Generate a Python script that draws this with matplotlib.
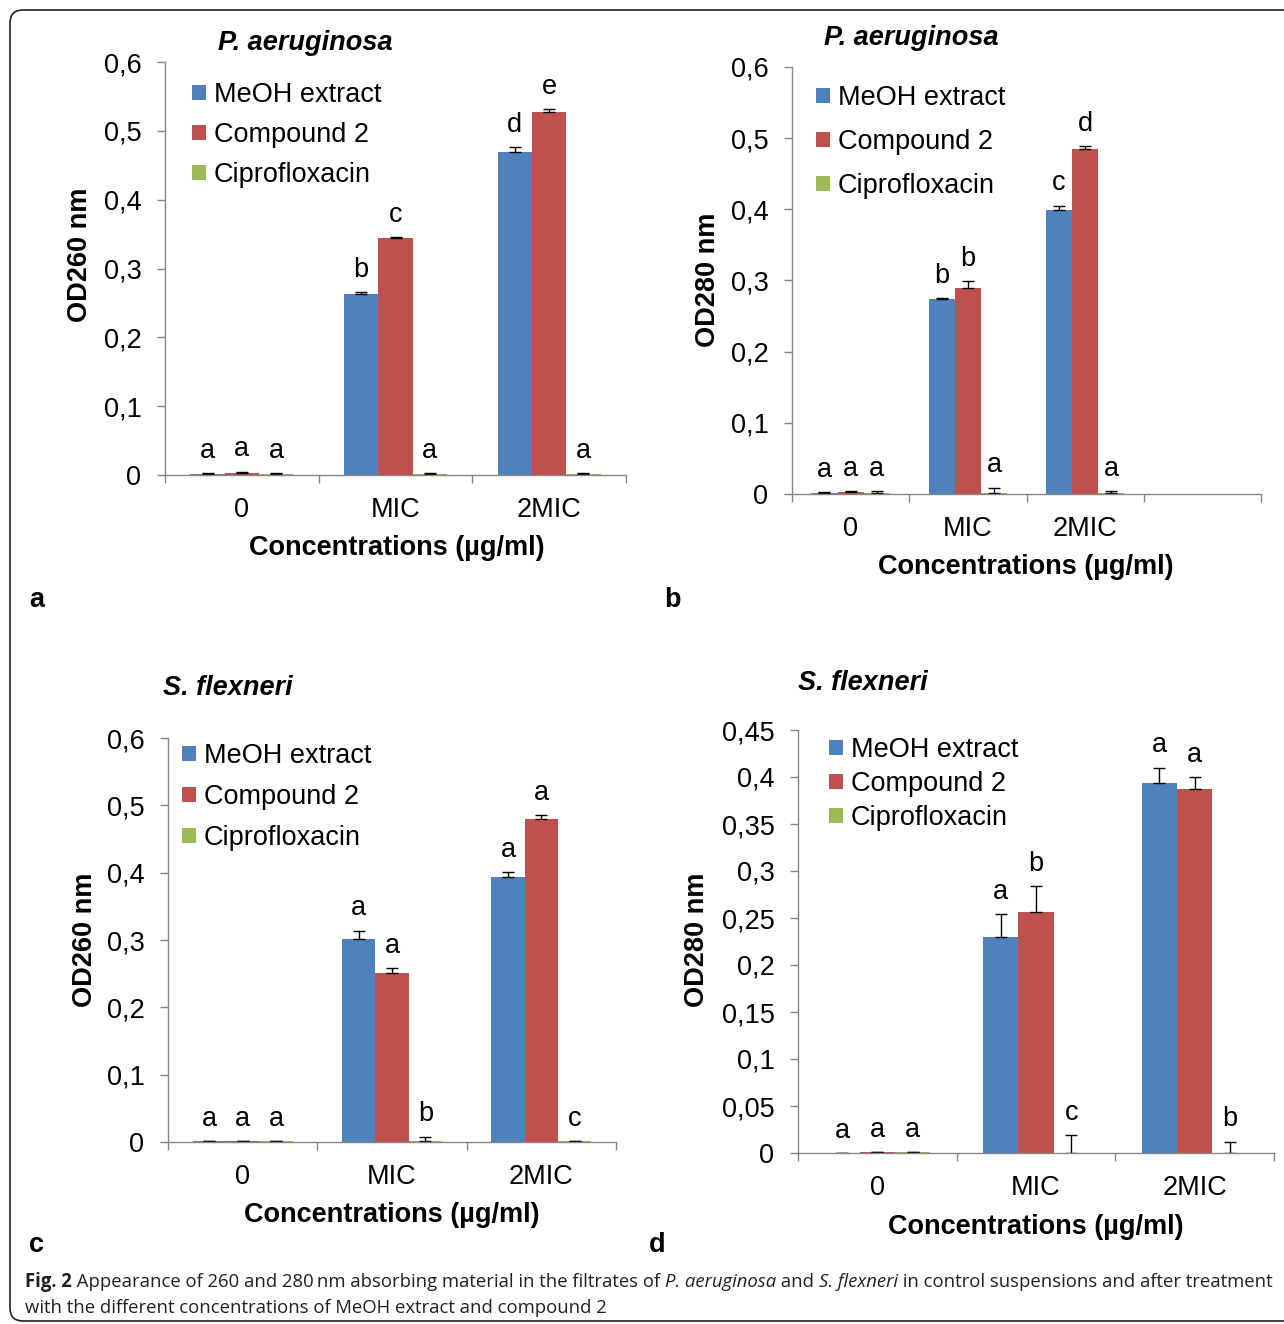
import numpy as np
import matplotlib.pyplot as plt
from matplotlib.patches import FancyBboxPatch, Patch
from matplotlib.ticker import FixedLocator

W, H = 1284, 1324
plt.rcParams['font.family'] = ['Liberation Sans', 'DejaVu Sans']
FS = 19.5
GREY = "#868686"

groups = ["0", "MIC", "2MIC"]
series = ["MeOH extract", "Compound 2", "Ciprofloxacin"]
colors = ["#4F81BD", "#C0504D", "#9BBB59"]

# a : P. aeruginosa, OD260
a_meoh = [0.002, 0.263, 0.469]
a_comp = [0.003, 0.344, 0.528]
a_cipro = [0.002, 0.002, 0.002]
a_meoh_err = [0.001, 0.003, 0.007]
a_comp_err = [0.002, 0.002, 0.004]
a_cipro_err = [0.001, 0.001, 0.001]
a_meoh_let = ["a", "b", "d"]
a_comp_let = ["a", "c", "e"]
a_cipro_let = ["a", "a", "a"]

# b : P. aeruginosa, OD280
b_meoh = [0.002, 0.274, 0.399]
b_comp = [0.003, 0.289, 0.485]
b_cipro = [0.002, 0.002, 0.002]
b_meoh_err = [0.001, 0.001, 0.006]
b_comp_err = [0.001, 0.010, 0.004]
b_cipro_err = [0.002, 0.007, 0.002]
b_meoh_let = ["a", "b", "c"]
b_comp_let = ["a", "b", "d"]
b_cipro_let = ["a", "a", "a"]

# c : S. flexneri, OD260
c_meoh = [0.001, 0.302, 0.394]
c_comp = [0.001, 0.251, 0.480]
c_cipro = [0.001, 0.001, 0.001]
c_meoh_err = [0.0, 0.012, 0.007]
c_comp_err = [0.0, 0.007, 0.005]
c_cipro_err = [0.0, 0.007, 0.0]
c_meoh_let = ["a", "a", "a"]
c_comp_let = ["a", "a", "a"]
c_cipro_let = ["a", "b", "c"]

# d : S. flexneri, OD280
d_meoh = [0.0, 0.230, 0.394]
d_comp = [0.001, 0.256, 0.387]
d_cipro = [0.001, 0.0, 0.0]
d_meoh_err = [0.0, 0.024, 0.016]
d_comp_err = [0.0, 0.028, 0.013]
d_cipro_err = [0.0, 0.019, 0.012]
d_meoh_let = ["a", "a", "a"]
d_comp_let = ["a", "b", "a"]
d_cipro_let = ["a", "c", "b"]


def px_box(l, t, r, b):
    return [l / W, 1 - b / H, (r - l) / W, (b - t) / H]


def panel(fig, box, vals, errs, lets, ymax, step, ylabel, ncat,
          title, title_xy, leg_xy, leg_space, ylab_xy, xlab_xy):
    l, t, r, b = box
    ax = fig.add_axes(px_box(l, t, r, b))
    x = np.arange(len(groups))
    w = 0.223
    for k in range(3):
        xs = x + (k - 1) * w
        ax.bar(xs, vals[k], w, color=colors[k], label=series[k],
               yerr=[np.zeros(len(groups)), errs[k]],
               error_kw=dict(ecolor="black", elinewidth=1.0, capsize=4.5, capthick=1.0))
        for xi, v, e, s in zip(xs, vals[k], errs[k], lets[k]):
            ax.annotate(s, (xi, v + e), xytext=(0, 11), textcoords="offset points",
                        ha="center", va="baseline", fontsize=FS)
    ax.set_xlim(-0.5, ncat - 0.5)
    ax.set_ylim(0, ymax)
    yt = np.arange(0, ymax + step / 2, step)
    ax.set_yticks(yt)
    ax.set_yticklabels([f"{round(v, 2):g}".replace(".", ",") for v in yt])
    ax.set_xticks(x)
    ax.set_xticklabels(groups)
    ax.xaxis.set_minor_locator(FixedLocator(np.arange(ncat + 1) - 0.5))
    for s in ["top", "right"]:
        ax.spines[s].set_visible(False)
    for s in ["left", "bottom"]:
        ax.spines[s].set_color(GREY)
        ax.spines[s].set_linewidth(1.0)
    ax.tick_params(axis="y", direction="out", length=6, width=1, color=GREY,
                   pad=11, labelsize=FS)
    ax.tick_params(axis="x", which="major", length=0, pad=16, labelsize=FS)
    ax.tick_params(axis="x", which="minor", direction="out", length=6, width=1, color=GREY)
    ax.set_ylabel(ylabel, fontsize=FS, fontweight="bold", va="center", ha="center")
    ax.yaxis.set_label_coords((ylab_xy[0] - l) / (r - l), (b - ylab_xy[1]) / (b - t))
    ax.set_xlabel("Concentrations (µg/ml)", fontsize=FS, fontweight="bold",
                  va="center", ha="center")
    ax.xaxis.set_label_coords((xlab_xy[0] - l) / (r - l), (b - xlab_xy[1]) / (b - t))
    fig.text(title_xy[0] / W, 1 - title_xy[1] / H, title, fontsize=FS,
             fontweight="bold", fontstyle="italic", ha="center", va="center")
    handles = [Patch(facecolor=c, edgecolor="none") for c in colors]
    ax.legend(handles, series, loc="upper left", bbox_to_anchor=(leg_xy[0] / W, 1 - leg_xy[1] / H),
              bbox_transform=fig.transFigure, frameon=False, fontsize=FS,
              handlelength=0.5, handleheight=0.5, handletextpad=0.3,
              labelspacing=leg_space, borderpad=0, borderaxespad=0)
    return ax


fig = plt.figure(figsize=(W / 100, H / 100), dpi=100)

panel(fig, (165, 62, 626, 475),
      [a_meoh, a_comp, a_cipro], [a_meoh_err, a_comp_err, a_cipro_err],
      [a_meoh_let, a_comp_let, a_cipro_let], 0.6, 0.1, "OD260 nm", 3,
      "P. aeruginosa", (305, 43), (192, 82), 0.52, (80, 255), (397, 548))
panel(fig, (792, 67, 1261, 494),
      [b_meoh, b_comp, b_cipro], [b_meoh_err, b_comp_err, b_cipro_err],
      [b_meoh_let, b_comp_let, b_cipro_let], 0.6, 0.1, "OD280 nm", 4,
      "P. aeruginosa", (911, 38), (816, 85), 0.67, (708, 280), (1026, 567))
panel(fig, (168, 738, 616, 1142),
      [c_meoh, c_comp, c_cipro], [c_meoh_err, c_comp_err, c_cipro_err],
      [c_meoh_let, c_comp_let, c_cipro_let], 0.6, 0.1, "OD260 nm", 3,
      "S. flexneri", (228, 688), (182, 743), 0.56, (85, 940), (392, 1215))
panel(fig, (798, 730, 1274, 1153),
      [d_meoh, d_comp, d_cipro], [d_meoh_err, d_comp_err, d_cipro_err],
      [d_meoh_let, d_comp_let, d_cipro_let], 0.45, 0.05, "OD280 nm", 3,
      "S. flexneri", (863, 683), (829, 737), 0.3, (697, 940), (1036, 1227))

# panel letters
for s, (px, py) in zip("abcd", [(37, 600), (672, 600), (37, 1245), (657, 1245)]):
    fig.text(px / W, 1 - py / H, s, fontsize=FS, fontweight="bold", ha="center", va="center")

# rounded frame
fig.patches.append(FancyBboxPatch((0.10, 0.03), 13.5, 13.11,
                                  boxstyle="round,pad=0,rounding_size=0.13",
                                  transform=fig.dpi_scale_trans, facecolor="none",
                                  edgecolor="#222222", linewidth=1.2))

# caption
cap_font = ["Open Sans", "DejaVu Sans"]
CFS = 13.35
line1 = [("Fig. 2", "bold", "normal"),
         (" Appearance of 260 and 280\u2009nm absorbing material in the filtrates of ", "normal", "normal"),
         ("P. aeruginosa", "normal", "italic"),
         (" and ", "normal", "normal"),
         ("S. flexneri", "normal", "italic"),
         (" in control suspensions and after treatment", "normal", "normal")]
line2 = [("with the different concentrations of MeOH extract and compound 2", "normal", "normal")]
renderer = fig.canvas.get_renderer()
for pieces, by in [(line1, 1287), (line2, 1313)]:
    xpos = 25
    for txt, wt, st in pieces:
        t = fig.text(xpos / W, 1 - by / H, txt, fontsize=CFS, fontweight=wt, fontstyle=st,
                     family=cap_font, color="#231F20", ha="left", va="baseline")
        xpos += t.get_window_extent(renderer).width

fig.savefig("out.png", dpi=100)
